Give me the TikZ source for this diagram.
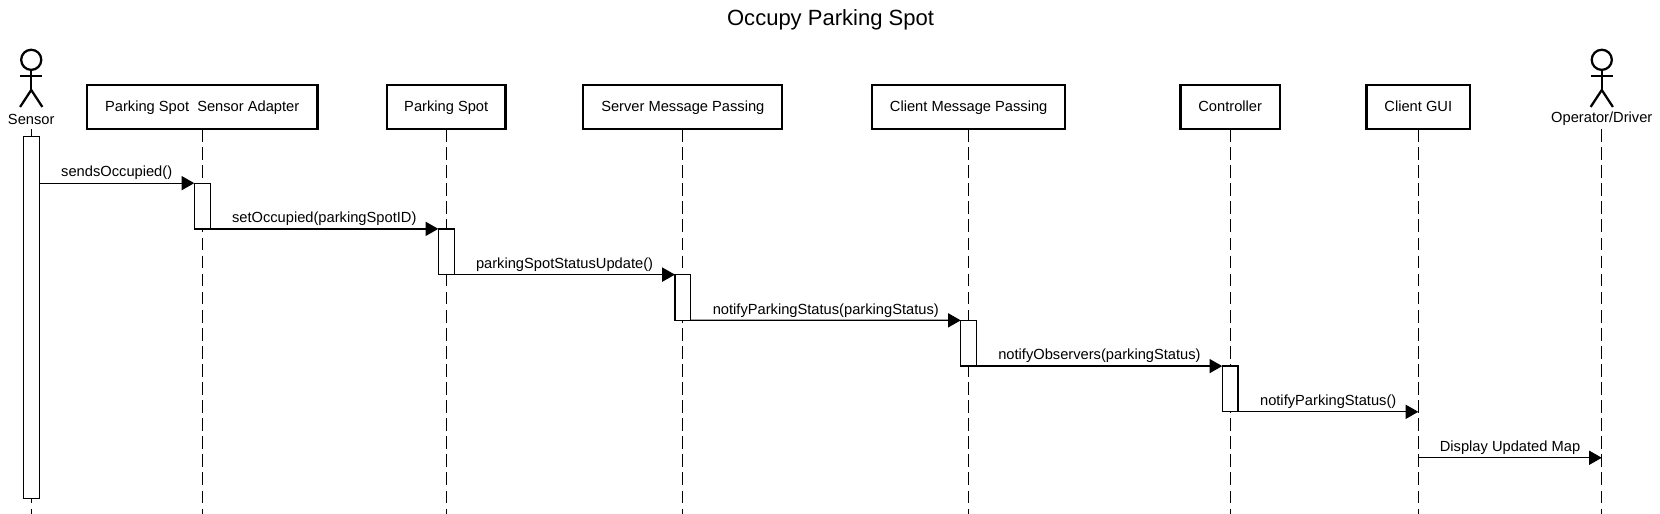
\documentclass[tikz,border=0pt]{standalone}
\usepackage{fontspec}
\setmainfont{Liberation Sans}
\usetikzlibrary{arrows.meta}
\tikzset{
	part/.style={rectangle,draw,line width=1.6pt,minimum height=31.5pt,inner sep=0pt,outer sep=0pt,text height=8pt,text depth=2.2pt,font=\fontsize{10.4}{12}\selectfont},
	life/.style={draw,line width=.9pt,dash pattern=on 9pt off 3.8pt},
	act/.style={rectangle,draw,fill=white,line width=.9pt,minimum width=11.25pt,inner sep=0pt,outer sep=0pt},
	msg/.style={draw,line width=.9pt,-{Triangle[length=9pt,width=10pt]}},
	lbl/.style={above,inner sep=0pt,yshift=1.8pt,font=\fontsize{10.4}{12}\selectfont},
	actorname/.style={inner sep=0pt,font=\fontsize{10.4}{12}\selectfont}
}
\begin{document}
\begin{tikzpicture}[x=.75pt,y=-.75pt]
	\useasboundingbox (0,0) rectangle (1568,485.5);
	\node[inner sep=0pt,font=\fontsize{15.6}{18}\selectfont] (title) at (784.5,18.5) {Occupy Parking Spot};
	% participants
	\foreach \N/\X/\W/\T in {adapter/191/218/{Parking Spot\ \ Sensor Adapter},spot/421.5/112/{Parking Spot},
		server/645/188/{Server Message Passing},client/915/182/{Client Message Passing},
		controller/1162/94/{Controller},gui/1339.7/98/{Client GUI}}
	{\node[part,minimum width=\W*.75pt] (\N) at (\X,101) {\T};
		\coordinate (\N-end) at (\N.center|-0,485.5);
		\draw[life] (\N) -- (\N-end);}
	% actors
	\foreach \N/\X/\T in {sensor/29.5/{Sensor},driver/1513/{Operator/Driver}}
	{\node[circle,draw,line width=1.6pt,minimum size=14.25pt,inner sep=0pt,outer sep=0pt] (\N-head) at (\X,56.5) {};
		\coordinate (\N-hip) at (\X,85);
		\coordinate (\N-end) at (\X,485.5);
		\draw[line width=1.6pt] (\N-head) -- (\N-hip);
		\draw[line width=1.6pt] (\X-10.5,72) -- (\X+10.5,72);
		\draw[line width=1.6pt] (\X-10.5,101) -- (\N-hip) -- (\X+10.5,101);
		\node[actorname] (\N) at (\X,112.5) {\T};
		\draw[life] (\X,122) -- (\N-end);}
	% activations
	\node[act,minimum height=342*.75pt] (a0) at (29.5,300) {};
	\foreach \N/\L/\Y in {a1/adapter/173,a2/spot/216.2,a3/server/259.4,a4/client/302.6,a5/controller/345.8}
	{\node[act,minimum height=43.2*.75pt,anchor=north] (\N) at (\L|-0,\Y) {};}
	% messages
	\coordinate (gui-in) at (gui.center|-a5.south);
	\coordinate (gui-out) at (gui.center|-0,432.4);
	\coordinate (driver-in) at (driver-end|-gui-out);
	\draw[msg] (a0.east|-a1.north) -- (a1.north west) node[midway,lbl]{sendsOccupied()};
	\draw[msg] (a1.south east) -- (a2.north west) node[midway,lbl]{setOccupied(parkingSpotID)};
	\draw[msg] (a2.south east) -- (a3.north west) node[midway,lbl]{parkingSpotStatusUpdate()};
	\draw[msg] (a3.south east) -- (a4.north west) node[midway,lbl]{notifyParkingStatus(parkingStatus)};
	\draw[msg] (a4.south east) -- (a5.north west) node[midway,lbl]{notifyObservers(parkingStatus)};
	\draw[msg] (a5.south east) -- (gui-in) node[midway,lbl]{notifyParkingStatus()};
	\draw[msg] (gui-out) -- (driver-in) node[midway,lbl]{Display Updated Map};
\end{tikzpicture}
\end{document}
